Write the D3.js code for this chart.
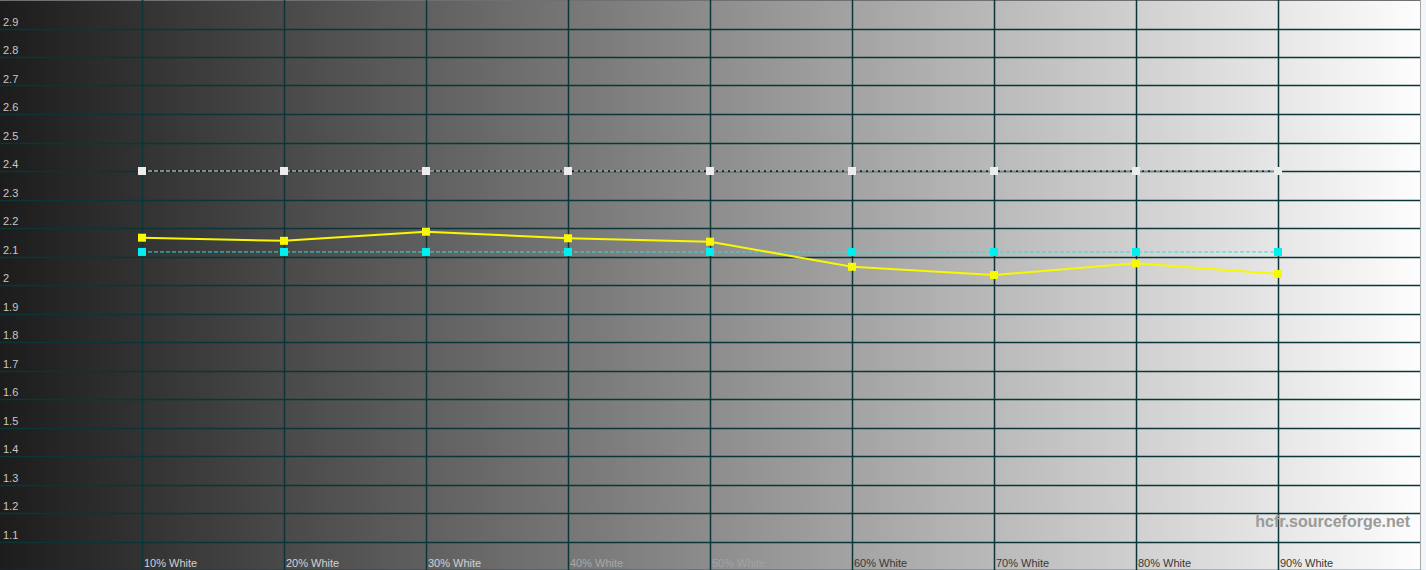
<!DOCTYPE html>
<html lang="en">
<head>
  <meta charset="UTF-8">
  <title>Gamma</title>
  <script src="https://d3js.org/d3.v7.min.js"></script>
  <style>
    body { margin: 0; background: #f2f5fa; overflow: hidden; }
  </style>
</head>
<body>
  <script>
    var categories = ["10% White", "20% White", "30% White", "40% White", "50% White",
                      "60% White", "70% White", "80% White", "90% White"];
    var levels = [10, 20, 30, 40, 50, 60, 70, 80, 90];
    var measured = [2.166, 2.155, 2.187, 2.164, 2.152, 2.064, 2.035, 2.076, 2.039];
    var target = [2.116, 2.116, 2.116, 2.116, 2.116, 2.116, 2.116, 2.116, 2.116];
    var reference = [2.4, 2.4, 2.4, 2.4, 2.4, 2.4, 2.4, 2.4, 2.4];
    var yTicks = [1.1, 1.2, 1.3, 1.4, 1.5, 1.6, 1.7, 1.8, 1.9, 2, 2.1, 2.2, 2.3, 2.4, 2.5, 2.6, 2.7, 2.8, 2.9];
    var yGrid = [1.0, 1.1, 1.2, 1.3, 1.4, 1.5, 1.6, 1.7, 1.8, 1.9, 2.0, 2.1, 2.2, 2.3, 2.4, 2.5, 2.6, 2.7, 2.8, 2.9];

    var svgWidth = 1426;
    var svgHeight = 570;
    var plotWidth = 1420;

    var svg = d3.select("body")
                .append("svg")
                .attr("width", svgWidth)
                .attr("height", svgHeight)
                .style("display", "block");

    var x = d3.scaleLinear().domain([0, 100]).range([0, plotWidth]);
    var y = d3.scaleLinear().domain([1, 3]).range([svgHeight, 0]);

    // grey ramp background
    var grad = svg.append("defs").append("linearGradient")
                  .attr("id", "ramp")
                  .attr("x1", "0").attr("x2", "1").attr("y1", "0").attr("y2", "0");
    grad.append("stop").attr("offset", "0").attr("stop-color", "#1c1c1c");
    grad.append("stop").attr("offset", "1").attr("stop-color", "#fdfdfd");

    svg.append("rect")
       .attr("width", plotWidth)
       .attr("height", svgHeight)
       .attr("fill", "url(#ramp)");

    // frame edges
    svg.append("line")
       .attr("x1", 0).attr("x2", plotWidth)
       .attr("y1", 0.5).attr("y2", 0.5)
       .attr("stroke", "#707070");
    svg.append("line")
       .attr("x1", plotWidth + 0.5).attr("x2", plotWidth + 0.5)
       .attr("y1", 0).attr("y2", svgHeight)
       .attr("stroke", "#a8a8a8");

    var gridColor = "#0b3537";

    svg.append("g").selectAll("line")
       .data(yGrid)
       .join("line")
       .attr("x1", 0).attr("x2", plotWidth)
       .attr("y1", d => Math.round(y(d)) + 0.5)
       .attr("y2", d => Math.round(y(d)) + 0.5)
       .attr("stroke", gridColor)
       .attr("stroke-width", 1.5);

    svg.append("g").selectAll("line")
       .data(levels)
       .join("line")
       .attr("x1", d => Math.round(x(d)) + 0.5)
       .attr("x2", d => Math.round(x(d)) + 0.5)
       .attr("y1", 0).attr("y2", svgHeight)
       .attr("stroke", gridColor)
       .attr("stroke-width", 1.5);

    // y tick labels sit just above their grid line
    svg.append("g").selectAll("text")
       .data(yTicks)
       .join("text")
       .attr("x", 3)
       .attr("y", d => y(d) - 3)
       .attr("font-family", "Liberation Sans, Arial, sans-serif")
       .attr("font-size", 11)
       .attr("fill", "#c8c8c8")
       .text(d => d3.format("~g")(d));

    // x labels, colour picked against the ramp
    var labelColor = function(i) {
      if (i < 3) return "#d2d2d2";
      if (i === 3) return "#a8a8a8";
      if (i === 4) return "#a2a2a2";
      return "#383838";
    };

    svg.append("g").selectAll("text")
       .data(categories)
       .join("text")
       .attr("x", (d, i) => x(levels[i]) + 2)
       .attr("y", 567)
       .attr("font-family", "Liberation Sans, Arial, sans-serif")
       .attr("font-size", 11)
       .attr("fill", (d, i) => labelColor(i))
       .text(d => d);

    svg.append("text")
       .attr("x", 1410)
       .attr("y", 527)
       .attr("text-anchor", "end")
       .attr("font-family", "Liberation Sans, Arial, sans-serif")
       .attr("font-weight", "bold")
       .attr("font-size", 16)
       .attr("fill", "#9a9a9a")
       .text("hcfr.sourceforge.net");

    function seriesLine(values) {
      return d3.line()
               .x((d, i) => x(levels[i]))
               .y(d => y(d))(values);
    }

    function markers(values, size, color) {
      svg.append("g").selectAll("rect")
         .data(values)
         .join("rect")
         .attr("x", (d, i) => x(levels[i]) - size / 2)
         .attr("y", d => y(d) - size / 2)
         .attr("width", size)
         .attr("height", size)
         .attr("fill", color);
    }

    // reference gamma: black/white dashes
    svg.append("path")
       .attr("d", seriesLine(reference))
       .attr("fill", "none")
       .attr("stroke", "#111")
       .attr("stroke-width", 1);
    svg.append("path")
       .attr("d", seriesLine(reference))
       .attr("fill", "none")
       .attr("stroke", "#f4f4f4")
       .attr("stroke-width", 1)
       .attr("stroke-dasharray", "4 2");
    markers(reference, 8, "#ececec");

    // target gamma
    svg.append("path")
       .attr("d", seriesLine(target))
       .attr("fill", "none")
       .attr("stroke", "#1ee6e6")
       .attr("stroke-width", 1)
       .attr("stroke-dasharray", "4 2");
    markers(target, 8, "#00f0f0");

    // measured gamma
    svg.append("path")
       .attr("d", seriesLine(measured))
       .attr("fill", "none")
       .attr("stroke", "#f8f800")
       .attr("stroke-width", 2);
    markers(measured, 8, "#f8f800");
  </script>
</body>
</html>
